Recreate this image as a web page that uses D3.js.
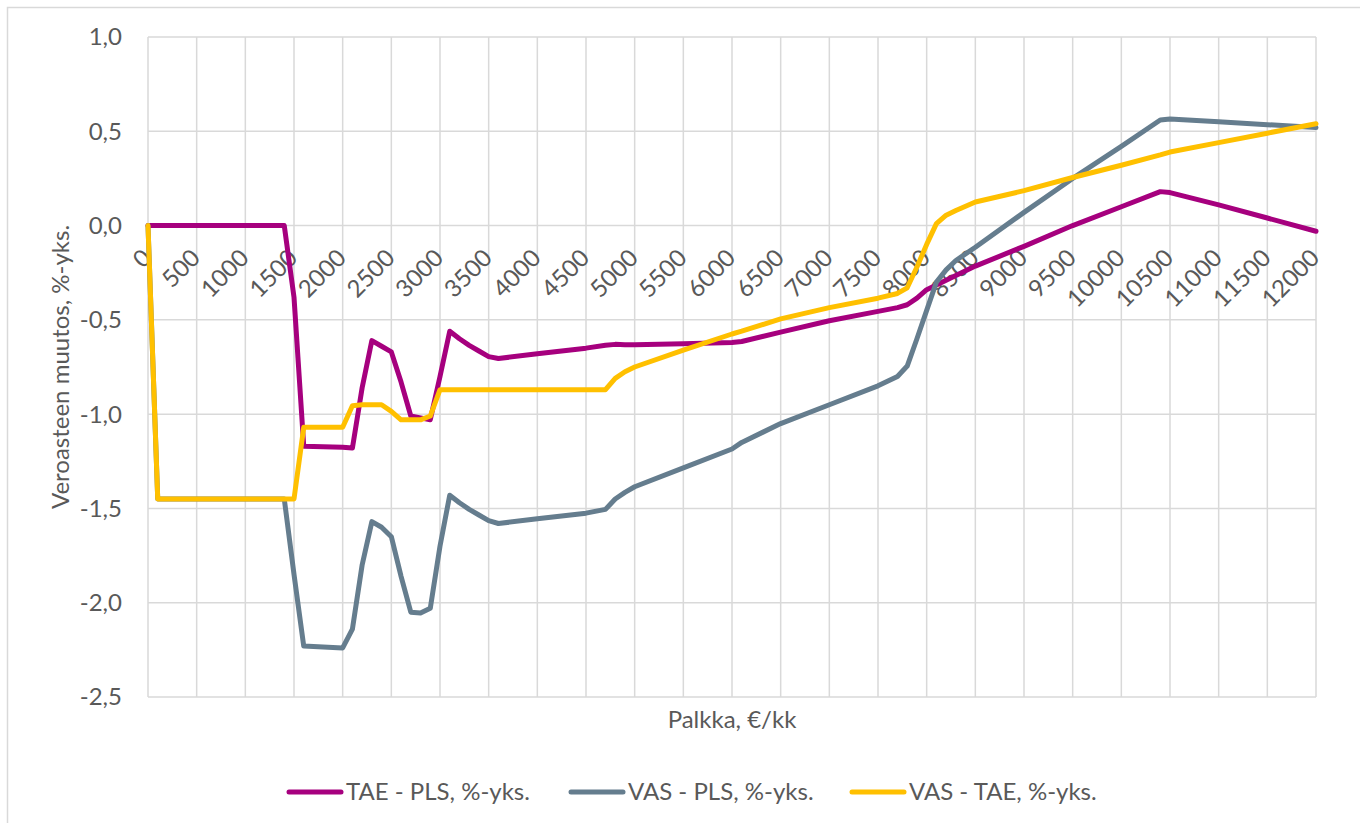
<!DOCTYPE html>
<html>
<head>
<meta charset="utf-8">
<script src="https://cdn.jsdelivr.net/npm/d3@7"></script>
<style>
  body { margin: 0; background: #fff; }
  svg { display: block; font-family: Lato, "Open Sans", sans-serif; }
</style>
</head>
<body>
<div id="chart"></div>
<script>
// --- DATA ---
const salaries = [0, 100, 1400, 1500, 1600, 2000, 2100, 2200, 2300, 2400, 2500, 2600, 2700, 2800, 2900, 3000,
  3100, 3200, 3300, 3400, 3500, 3600, 4000, 4500, 4700, 4800, 4900, 5000, 5500, 6000, 6100, 6500, 7000, 7500,
  7700, 7800, 7900, 8000, 8100, 8200, 8300, 8500, 9000, 9500, 10000, 10400, 10500, 11000, 11500, 12000];

const taePls = [0, 0, 0, -0.38, -1.17, -1.175, -1.18, -0.86, -0.61, -0.64, -0.67, -0.83, -1.01, -1.02, -1.03, -0.80,
  -0.56, -0.60, -0.635, -0.665, -0.695, -0.705, -0.68, -0.65, -0.635, -0.63, -0.632, -0.632, -0.627, -0.62, -0.615, -0.565, -0.505, -0.455,
  -0.435, -0.42, -0.385, -0.34, -0.315, -0.29, -0.265, -0.215, -0.11, 0.0, 0.10, 0.18, 0.175, 0.11, 0.04, -0.03];

const vasPls = [0, -1.45, -1.45, -1.85, -2.23, -2.24, -2.14, -1.80, -1.57, -1.60, -1.65, -1.86, -2.05, -2.055, -2.03, -1.70,
  -1.43, -1.47, -1.505, -1.535, -1.565, -1.58, -1.555, -1.525, -1.505, -1.45, -1.415, -1.385, -1.285, -1.185, -1.15, -1.05, -0.95, -0.85,
  -0.80, -0.745, -0.60, -0.45, -0.30, -0.235, -0.185, -0.115, 0.07, 0.25, 0.42, 0.56, 0.565, 0.55, 0.535, 0.52];

const vasTae = [0, -1.45, -1.45, -1.45, -1.07, -1.07, -0.955, -0.95, -0.95, -0.95, -0.985, -1.03, -1.03, -1.03, -1.01, -0.87,
  -0.87, -0.87, -0.87, -0.87, -0.87, -0.87, -0.87, -0.87, -0.87, -0.81, -0.775, -0.75, -0.66, -0.575, -0.56, -0.495, -0.435, -0.385,
  -0.36, -0.33, -0.22, -0.10, 0.01, 0.055, 0.08, 0.125, 0.185, 0.255, 0.32, 0.375, 0.39, 0.44, 0.49, 0.54];

const seriesNames = ["TAE - PLS, %-yks.", "VAS - PLS, %-yks.", "VAS - TAE, %-yks."];
const seriesColors = ["#A6007E", "#657D8E", "#FFC000"];
const xTicks = d3.range(0, 12001, 500);
const yTicks = [1.0, 0.5, 0.0, -0.5, -1.0, -1.5, -2.0, -2.5];

// --- SETUP ---
const width = 1360;
const height = 823;
const margin = { top: 37, right: 44, bottom: 126, left: 148 };
const textColor = "#595959";
const fontSize = "24px";

const svg = d3.select("#chart")
  .append("svg")
  .attr("width", width)
  .attr("height", height);

// chart border (right and bottom edges fall outside the picture)
svg.append("rect")
  .attr("x", 7.5).attr("y", 7.5)
  .attr("width", 1400).attr("height", 1000)
  .attr("fill", "none")
  .attr("stroke", "#D9D9D9")
  .attr("stroke-width", 1.5);

const x = d3.scaleLinear()
  .domain([0, 12000])
  .range([margin.left, width - margin.right]);

const y = d3.scaleLinear()
  .domain([-2.5, 1.0])
  .range([height - margin.bottom, margin.top]);

// --- GRID ---
svg.append("g")
  .selectAll("line")
  .data(yTicks)
  .join("line")
  .attr("x1", x(0)).attr("x2", x(12000))
  .attr("y1", d => y(d)).attr("y2", d => y(d))
  .attr("stroke", "#D9D9D9")
  .attr("stroke-width", 1.5);

svg.append("g")
  .selectAll("line")
  .data(xTicks)
  .join("line")
  .attr("x1", d => x(d)).attr("x2", d => x(d))
  .attr("y1", y(1.0)).attr("y2", y(-2.5))
  .attr("stroke", "#D9D9D9")
  .attr("stroke-width", 1.5);

// --- Y AXIS LABELS ---
const fmt = d => d3.format(".1f")(d).replace(".", ",").replace("−", "-");
svg.append("g")
  .selectAll("text")
  .data(yTicks)
  .join("text")
  .attr("x", 122)
  .attr("y", d => y(d))
  .attr("dy", "0.35em")
  .attr("text-anchor", "end")
  .attr("font-size", fontSize)
  .attr("fill", textColor)
  .text(fmt);

svg.append("text")
  .attr("transform", `translate(61, ${(y(1) + y(-2.5)) / 2}) rotate(-90)`)
  .attr("dy", "0.35em")
  .attr("text-anchor", "middle")
  .attr("font-size", fontSize)
  .attr("fill", textColor)
  .text("Veroasteen muutos, %-yks.");

// --- X AXIS LABELS (rotated, hanging from y = 0) ---
svg.append("g")
  .selectAll("text")
  .data(xTicks)
  .join("text")
  .attr("transform", d => `translate(${x(d) - 1}, ${y(0) + 28}) rotate(-45)`)
  .attr("dy", "0.35em")
  .attr("text-anchor", "end")
  .attr("font-size", fontSize)
  .attr("fill", textColor)
  .text(d => d);

svg.append("text")
  .attr("x", (x(0) + x(12000)) / 2)
  .attr("y", 720)
  .attr("dy", "0.35em")
  .attr("text-anchor", "middle")
  .attr("font-size", fontSize)
  .attr("fill", textColor)
  .text("Palkka, €/kk");

// --- LINES ---
const allSeries = [taePls, vasPls, vasTae];
const line = d3.line()
  .x((d, i) => x(salaries[i]))
  .y(d => y(d));

svg.append("g")
  .selectAll("path")
  .data(allSeries)
  .join("path")
  .attr("d", d => line(d))
  .attr("fill", "none")
  .attr("stroke", (d, i) => seriesColors[i])
  .attr("stroke-width", 5)
  .attr("stroke-linejoin", "round")
  .attr("stroke-linecap", "round");

// --- LEGEND ---
const legendX = [289, 571, 852];
const legend = svg.append("g")
  .selectAll("g")
  .data(seriesNames)
  .join("g")
  .attr("transform", (d, i) => `translate(${legendX[i]}, 792)`);

legend.append("line")
  .attr("x1", 0).attr("x2", 52)
  .attr("stroke", (d, i) => seriesColors[i])
  .attr("stroke-width", 5)
  .attr("stroke-linecap", "round");

legend.append("text")
  .attr("x", 57)
  .attr("dy", "0.35em")
  .attr("font-size", fontSize)
  .attr("fill", textColor)
  .text(d => d);
</script>
</body>
</html>
